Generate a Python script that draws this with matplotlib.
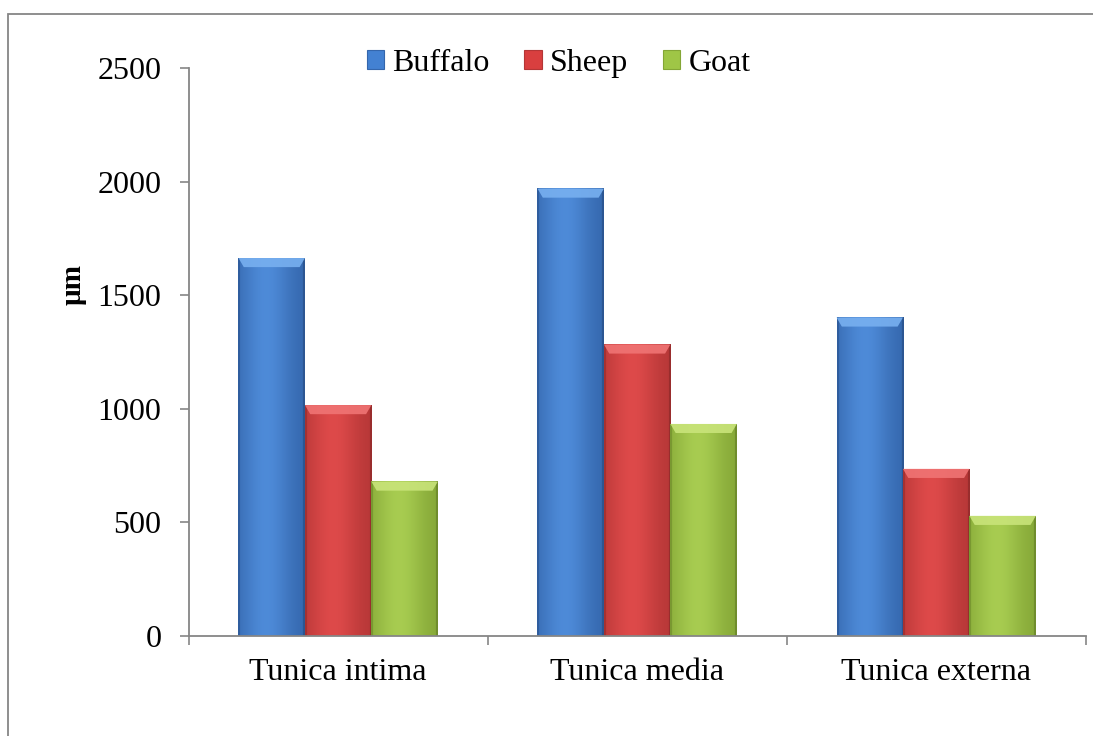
"""Grouped bar chart of vessel wall layer thickness in three species."""

import numpy as np
import matplotlib

matplotlib.use("Agg")
import matplotlib.pyplot as plt
from matplotlib.colors import to_rgb
from matplotlib.patches import Patch, Polygon, Rectangle

plt.rcParams["font.family"] = ["Liberation Serif", "DejaVu Serif"]

categories = ["Tunica intima", "Tunica media", "Tunica externa"]
species = ["Buffalo", "Sheep", "Goat"]
buffalo = [1664, 1970, 1402]
sheep = [1016, 1283, 735]
goat = [679, 933, 528]
y_ticks = [0, 500, 1000, 1500, 2000, 2500]

# base, edge (dark) and bevel (light) tones per series
base_colors = ["#4381d2", "#d93f3f", "#9fc646"]
dark_colors = ["#3466ac", "#b43636", "#84a636"]
light_colors = ["#78b0f0", "#f07474", "#c9e47a"]
AXIS_GREY = "#868686"


def shaded_bar(ax, x0, width, height, base, dark, light):
    """Draw a bar with a horizontal shading gradient and a lighter top bevel."""
    ax.bar(x0, height, width=width, align="edge", color=base, linewidth=0, zorder=2)
    b, d, l = np.array(to_rgb(base)), np.array(to_rgb(dark)), np.array(to_rgb(light))
    t = np.linspace(0, 1, 64)
    # darker at both edges, brightest a little left of centre
    prof = np.exp(-((t - 0.42) / 0.38) ** 2)
    row = d[None, :] * (1 - prof[:, None]) + (0.8 * b + 0.2 * l)[None, :] * prof[:, None]
    row[:2] = d * 0.92
    row[-2:] = d * 0.85
    ax.imshow(row[None, :, :], extent=(x0, x0 + width, 0, height),
              aspect="auto", zorder=3, interpolation="bilinear")
    bevel_h = 40
    inset = width * 0.08
    ax.add_patch(Polygon(
        [(x0, height), (x0 + width, height),
         (x0 + width - inset, height - bevel_h), (x0 + inset, height - bevel_h)],
        closed=True, facecolor=light, edgecolor="none", alpha=0.9, zorder=4))


fig = plt.figure(figsize=(10.93, 7.36), dpi=100)
ax = fig.add_axes([0.1726, 0.1363, 0.8207, 0.7709])

series = [buffalo, sheep, goat]
n_groups = len(categories)
bar_w = 1 / 4.5          # gap width 150 % of a bar
for s, values in enumerate(series):
    for g in range(n_groups):
        x0 = g + 0.75 / 4.5 + s * bar_w
        shaded_bar(ax, x0, bar_w, values[g],
                   base_colors[s], dark_colors[s], light_colors[s])

ax.set_xlim(0, n_groups)
ax.set_ylim(0, 2500)
ax.set_yticks(y_ticks)
ax.set_yticklabels([str(v) for v in y_ticks], fontsize=23)

# tick marks on the group boundaries, labels at the group centres
ax.set_xticks(np.arange(n_groups + 1))
ax.set_xticklabels([])
ax.set_xticks(np.arange(n_groups) + 0.5, minor=True)
ax.set_xticklabels(categories, minor=True, fontsize=23)
ax.tick_params(axis="x", which="major", length=9 * 0.72, width=1.2, color=AXIS_GREY)
ax.tick_params(axis="x", which="minor", length=0, pad=16)
ax.tick_params(axis="y", length=9 * 0.72, width=1.2, color=AXIS_GREY, pad=13)

for side in ("top", "right"):
    ax.spines[side].set_visible(False)
for side in ("left", "bottom"):
    ax.spines[side].set_color(AXIS_GREY)
    ax.spines[side].set_linewidth(1.3)
    ax.spines[side].set_zorder(5)

fig.text(0.067, 0.613, "µm", rotation=90, fontsize=21, fontweight="bold",
         ha="center", va="center")

handles = [Patch(facecolor=base_colors[i], edgecolor=dark_colors[i], linewidth=0.8)
           for i in range(len(species))]
fig.legend(handles, species, loc="center", bbox_to_anchor=(0.511, 0.914),
           ncol=3, frameon=False, fontsize=23, handlelength=0.54,
           handleheight=0.54, handletextpad=0.25, columnspacing=1.1,
           borderaxespad=0)

# outer chart frame
fig.patches.append(Rectangle((8 / 1093, -0.1), 1.2, (736 - 14.3) / 736 + 0.1,
                             transform=fig.transFigure, fill=False,
                             edgecolor=AXIS_GREY, linewidth=1.3))

fig.savefig("out.png", dpi=100)
